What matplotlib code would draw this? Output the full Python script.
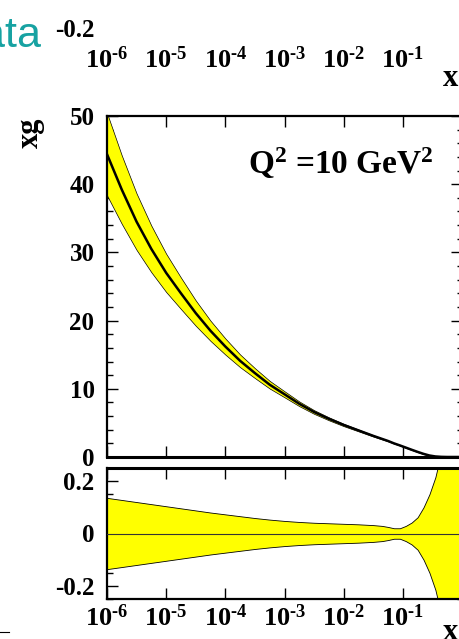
import numpy as np
import matplotlib
matplotlib.use('Agg')
import matplotlib.pyplot as plt
from matplotlib.lines import Line2D
from matplotlib.ticker import LogLocator, MultipleLocator, NullFormatter

plt.rcParams['font.family'] = 'Liberation Serif'
plt.rcParams['font.weight'] = 'bold'
plt.rcParams['mathtext.fontset'] = 'custom'
plt.rcParams['mathtext.rm'] = 'Liberation Serif:bold'
plt.rcParams['mathtext.it'] = 'Liberation Serif:bold'
plt.rcParams['mathtext.bf'] = 'Liberation Serif:bold'
plt.rcParams['axes.unicode_minus'] = False

# log10(x) grid
log_x = [-6.0, -5.75, -5.5, -5.25, -5.0, -4.75, -4.5, -4.25, -4.0, -3.75, -3.5,
         -3.25, -3.0, -2.75, -2.5, -2.25, -2.0, -1.75, -1.5, -1.35, -1.25, -1.15,
         -1.05, -0.95, -0.85, -0.75, -0.65, -0.55, -0.45, -0.35, -0.25, -0.1, 0.0]
# central gluon xg at Q^2 = 10 GeV^2
xg_central = [44.4, 39.2, 34.5, 30.5, 27.0, 24.0, 21.1, 18.5, 16.2, 14.1, 12.3,
              10.6, 9.2, 7.8, 6.6, 5.6, 4.7, 3.9, 3.1, 2.65, 2.35, 2.0,
              1.7, 1.38, 1.06, 0.75, 0.46, 0.22, 0.08, 0.02, 0.0, 0.0, 0.0]
# relative uncertainty (symmetric)
rel_err = [0.136, 0.128, 0.120, 0.112, 0.104, 0.096, 0.088, 0.080, 0.073, 0.066, 0.059,
           0.053, 0.048, 0.044, 0.041, 0.039, 0.037, 0.035, 0.032, 0.029, 0.025, 0.020,
           0.020, 0.029, 0.042, 0.062, 0.100, 0.150, 0.215, 0.310, 0.430, 0.700, 1.000]

x_ticks = [1e-6, 1e-5, 1e-4, 1e-3, 1e-2, 1e-1, 1.0]
x_tick_labels = [r'$10^{\text{-}6}$', r'$10^{\text{-}5}$', r'$10^{\text{-}4}$',
                 r'$10^{\text{-}3}$', r'$10^{\text{-}2}$', r'$10^{\text{-}1}$', '']
main_yticks = [0, 10, 20, 30, 40, 50]
ratio_yticks = [-0.2, 0, 0.2]
ratio_yticklabels = ['-0.2', '0', '0.2']

x = 10 ** np.array(log_x)
c = np.array(xg_central)
r = np.array(rel_err)

W, H = 459, 639
fig = plt.figure(figsize=(W / 100, H / 100), dpi=100)


def px_axes(left, top, right, bottom):
    return fig.add_axes([left / W, 1 - bottom / H, (right - left) / W, (bottom - top) / H])


ax_ghost = px_axes(107, -89, 462, 41)
ax = px_axes(107, 116, 462, 457)
axr = px_axes(107, 468, 462, 599)


def style(a, color='black'):
    a.set_xscale('log')
    a.set_xlim(1e-6, 1.0)
    a.xaxis.set_minor_locator(LogLocator(base=10, subs=np.arange(2, 10)))
    a.xaxis.set_minor_formatter(NullFormatter())
    a.tick_params(which='both', direction='in', top=True, right=True,
                  colors=color, labelcolor='black')
    a.tick_params(which='major', length=11 * 0.72, width=1.0)
    a.tick_params(which='minor', length=5.5 * 0.72, width=1.0)
    a.tick_params(axis='x', pad=4, labelsize=19)
    a.tick_params(axis='y', pad=9, labelsize=18)
    for s in a.spines.values():
        s.set_linewidth(1.6)


# ghost of the panel above (only its labels remain in the crop)
style(ax_ghost, color='none')
for s in ax_ghost.spines.values():
    s.set_visible(False)
ax_ghost.set_ylim(-0.25, 0.25)
ax_ghost.set_yticks([ratio_yticks[0]], [ratio_yticklabels[0]])
ax_ghost.set_xticks(x_ticks, x_tick_labels)
ax_ghost.patch.set_alpha(0)
ax_ghost.text(0.969, -0.346, 'x', transform=ax_ghost.transAxes, fontsize=22,
              ha='center', va='baseline')

# main panel
style(ax)
ax.fill_between(x, c * (1 + r), c * (1 - r), facecolor='#ffff00',
                edgecolor='black', linewidth=0.5, zorder=2)
ax.plot(x, c, color='black', linewidth=1.8, zorder=3)
ax.set_ylim(0, 50)
ax.set_yticks(main_yticks)
ax.yaxis.set_minor_locator(MultipleLocator(2))
ax.set_xticks(x_ticks, x_tick_labels)
ax.tick_params(axis='x', labelbottom=False)
ax.spines['bottom'].set_linewidth(2.2)
ax.text(0.397, 0.830, r'Q$^2$ =10 GeV$^2$', transform=ax.transAxes,
        fontsize=24, ha='left', va='baseline')
ax.text(-0.217, 0.950, 'xg', transform=ax.transAxes, fontsize=22,
        rotation=90, ha='center', va='center')

# ratio panel
style(axr)
axr.fill_between(x, r, -r, facecolor='#ffff00', edgecolor='black',
                 linewidth=0.6, zorder=2)
axr.axhline(0, color='#333333', linewidth=0.8, zorder=3)
axr.set_ylim(-0.25, 0.25)
axr.set_yticks(ratio_yticks, ratio_yticklabels)
axr.yaxis.set_minor_locator(MultipleLocator(0.05))
axr.set_xticks(x_ticks, x_tick_labels)
axr.spines['top'].set_linewidth(2.2)
axr.text(0.969, -0.313, 'x', transform=axr.transAxes, fontsize=22,
         ha='center', va='baseline')

fig.text(42 / W, 1 - 47 / H, 'Data', color='#17a2a2', fontsize=31,
         fontfamily='Liberation Sans', fontweight='normal', ha='right', va='baseline')
fig.add_artist(Line2D([0, 9 / W], [1 - 632 / H, 1 - 632 / H], color='black', linewidth=0.8))

fig.savefig('out.png', dpi=100)
